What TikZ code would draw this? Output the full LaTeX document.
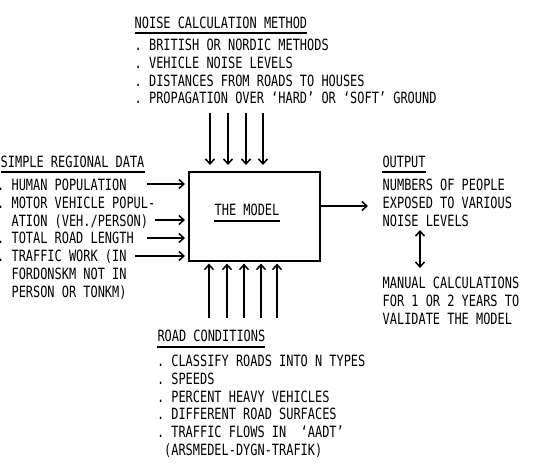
\documentclass[tikz,border=0pt]{standalone}
\usepackage{fontspec}
\usetikzlibrary{arrows.meta}
\newfontfamily\typ[FakeStretch=0.77]{DejaVu Sans Mono}
\newcommand{\fl}{\rule{0pt}{12.5pt}}
\begin{document}
\frenchspacing
\begin{tikzpicture}[x=1pt,y=-1pt,
  txt/.style={font=\typ\fontsize{15.5}{17.9}\selectfont, inner sep=0pt, anchor=base west},
  lst/.style={font=\typ\fontsize{15.5}{17.9}\selectfont, inner sep=0pt, anchor=north west, align=left},
  ul/.style={line width=1.1pt},
  arr/.style={line width=1.5pt, -{Straight Barb[length=5pt,width=9pt]}},
  darr/.style={line width=1.5pt, {Straight Barb[length=5pt,width=9pt]}-{Straight Barb[length=5pt,width=9pt]}},
  box/.style={draw, line width=1.6pt, inner sep=0pt, minimum width=131pt, minimum height=89pt}]
\useasboundingbox (0,0) rectangle (538,464);
% model box
\node[box, anchor=north west] (model) at (188,171) {};
\node[txt, anchor=base] (title) at (247,215) {THE MODEL};
\draw[ul] ([yshift=-6pt]title.base west) -- ([yshift=-6pt]title.base east);
% noise calculation method
\node[txt] (noiseh) at (134.5,28) {NOISE CALCULATION METHOD};
\draw[ul] ([yshift=-5pt]noiseh.base west) -- ([yshift=-5pt]noiseh.base east);
\node[lst] (noisel) at (134.5,50-12.5) {\fl. BRITISH OR NORDIC METHODS\\. VEHICLE NOISE LEVELS\\. DISTANCES FROM ROADS TO HOUSES\\. PROPAGATION OVER ‘HARD’ OR ‘SOFT’ GROUND};
% simple regional data
\node[txt] (datah) at (0.5,167) {SIMPLE REGIONAL DATA};
\draw[ul] ([yshift=-5pt]datah.base west) -- ([yshift=-5pt]datah.base east);
\node[lst] (datal) at (-3,190-12.5) {\fl. HUMAN POPULATION\\. MOTOR VEHICLE POPUL-\\\hphantom{..}ATION (VEH./PERSON)\\. TOTAL ROAD LENGTH\\. TRAFFIC WORK (IN\\\hphantom{..}FORDONSKM NOT IN\\\hphantom{..}PERSON OR TONKM)};
% output
\node[txt] (outh) at (382.3,167) {OUTPUT};
\draw[ul] ([yshift=-5pt]outh.base west) -- ([yshift=-5pt]outh.base east);
\node[lst] (outl) at (382.5,190-12.5) {\fl NUMBERS OF PEOPLE\\EXPOSED TO VARIOUS\\NOISE LEVELS};
\node[lst] (manual) at (382.5,288-12.5) {\fl MANUAL CALCULATIONS\\FOR 1 OR 2 YEARS TO\\VALIDATE THE MODEL};
% road conditions
\node[txt] (roadh) at (157.3,341) {ROAD CONDITIONS};
\draw[ul] ([yshift=-6pt]roadh.base west) -- ([yshift=-6pt]roadh.base east);
\node[lst] (roadl) at (156.8,366-12.5) {\fl. CLASSIFY ROADS INTO N TYPES\\. SPEEDS\\. PERCENT HEAVY VEHICLES\\. DIFFERENT ROAD SURFACES\\. TRAFFIC FLOWS IN\ \ ‘AADT’\\\hphantom{.}(ARSMEDEL-DYGN-TRAFIK)};
% top arrows
\foreach \i/\x in {1/210,2/228,3/246,4/263}{
  \coordinate (n\i) at (\x,113);
  \draw[arr, shorten >=6pt] (n\i) -- (n\i |- model.north);
}
% bottom arrows
\foreach \i/\x in {1/209,2/227,3/244,4/261,5/277}{
  \coordinate (r\i) at (\x,318);
  \draw[arr, shorten >=2pt] (r\i) -- (r\i |- model.south);
}
% left arrows
\foreach \i/\x/\y in {1/147/184,2/155/220,3/147/238,4/135/256}{
  \coordinate (l\i) at (\x,\y);
  \draw[arr, shorten >=3pt] (l\i) -- (l\i -| model.west);
}
% output arrow
\coordinate (o1) at (368,206);
\draw[arr] (o1 -| model.east) -- (o1);
% double arrow
\coordinate (d1) at (420,230);
\coordinate (d2) at (420,268);
\draw[darr] (d1) -- (d2);
\end{tikzpicture}
\end{document}
